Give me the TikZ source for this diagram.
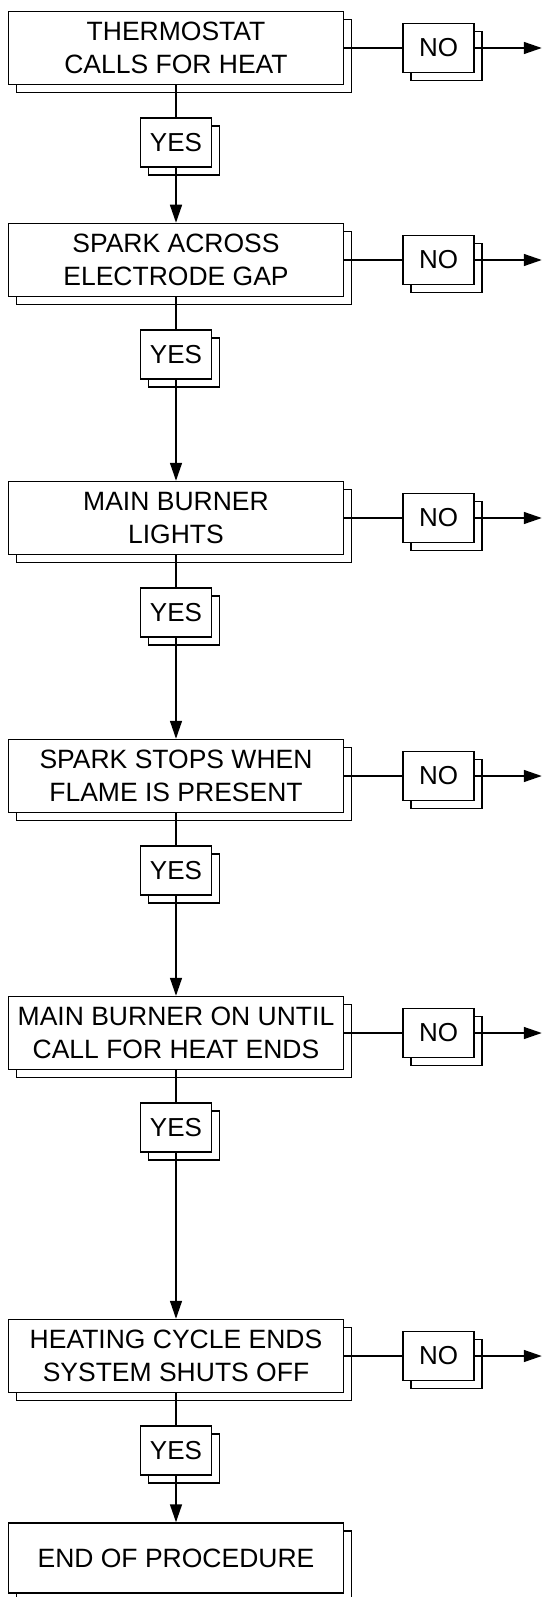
\documentclass[tikz,border=0pt]{standalone}
\usepackage{fontspec}
\setmainfont{Liberation Sans}
\usetikzlibrary{arrows.meta, positioning, shadows}
\tikzset{
  stepbox/.style = {rectangle, draw, fill=white, line width=1.5pt, minimum width=335pt,
                    minimum height=73pt, inner sep=0pt, align=center,
                    font=\fontsize{26.5}{33}\selectfont,
                    copy shadow={shadow xshift=8pt, shadow yshift=-8pt, line width=1.5pt}},
  answer/.style = {rectangle, draw, fill=white, line width=1.5pt, minimum width=71pt,
                   minimum height=49pt, inner sep=0pt, font=\fontsize{26}{33}\selectfont,
                   copy shadow={shadow xshift=8pt, shadow yshift=-8pt, line width=1.5pt}},
  link/.style = {line width=1.5pt},
  arrow/.style = {-{Triangle[length=18pt, width=12pt]}, line width=1.5pt},
}

\begin{document}
\begin{tikzpicture}[x=1pt, y=-1pt, node distance=32pt]
\useasboundingbox (0,0) rectangle (545,1597);

% Steps
\node[stepbox] (thermo)  at (176,48)   {THERMOSTAT\\CALLS FOR HEAT};
\node[stepbox] (spark)   at (176,260)  {SPARK ACROSS\\ELECTRODE GAP};
\node[stepbox] (burner)  at (176,518)  {MAIN BURNER\\LIGHTS};
\node[stepbox] (stops)   at (176,776)  {SPARK STOPS WHEN\\FLAME IS PRESENT};
\node[stepbox] (untilE)  at (176,1033) {MAIN BURNER ON UNTIL\\CALL FOR HEAT ENDS};
\node[stepbox] (cycle)   at (176,1356) {HEATING CYCLE ENDS\\SYSTEM SHUTS OFF};
\node[stepbox, minimum height=70pt] (endProc) at (176,1558) {END OF PROCEDURE};

% YES answers
\node[answer, below=of thermo] (thermoYes) {YES};
\node[answer, below=of spark]  (sparkYes)  {YES};
\node[answer, below=of burner] (burnerYes) {YES};
\node[answer, below=of stops]  (stopsYes)  {YES};
\node[answer, below=of untilE] (untilEYes) {YES};
\node[answer, below=of cycle]  (cycleYes)  {YES};

% NO answers
\node[answer, right=58pt of thermo] (thermoNo) {NO};
\node[answer, right=58pt of spark]  (sparkNo)  {NO};
\node[answer, right=58pt of burner] (burnerNo) {NO};
\node[answer, right=58pt of stops]  (stopsNo)  {NO};
\node[answer, right=58pt of untilE] (untilENo) {NO};
\node[answer, right=58pt of cycle]  (cycleNo)  {NO};

\coordinate[right=67pt of thermoNo] (thermoOut);
\coordinate[right=67pt of sparkNo]  (sparkOut);
\coordinate[right=67pt of burnerNo] (burnerOut);
\coordinate[right=67pt of stopsNo]  (stopsOut);
\coordinate[right=67pt of untilENo] (untilEOut);
\coordinate[right=67pt of cycleNo]  (cycleOut);

% Down the YES path
\draw[link]  (thermo) -- (thermoYes);
\draw[arrow] (thermoYes) -- (spark);
\draw[link]  (spark) -- (sparkYes);
\draw[arrow] (sparkYes) -- (burner);
\draw[link]  (burner) -- (burnerYes);
\draw[arrow] (burnerYes) -- (stops);
\draw[link]  (stops) -- (stopsYes);
\draw[arrow] (stopsYes) -- (untilE);
\draw[link]  (untilE) -- (untilEYes);
\draw[arrow] (untilEYes) -- (cycle);
\draw[link]  (cycle) -- (cycleYes);
\draw[arrow] (cycleYes) -- (endProc);

% Out along the NO path
\draw[link]  (thermo) -- (thermoNo);
\draw[arrow] (thermoNo) -- (thermoOut);
\draw[link]  (spark) -- (sparkNo);
\draw[arrow] (sparkNo) -- (sparkOut);
\draw[link]  (burner) -- (burnerNo);
\draw[arrow] (burnerNo) -- (burnerOut);
\draw[link]  (stops) -- (stopsNo);
\draw[arrow] (stopsNo) -- (stopsOut);
\draw[link]  (untilE) -- (untilENo);
\draw[arrow] (untilENo) -- (untilEOut);
\draw[link]  (cycle) -- (cycleNo);
\draw[arrow] (cycleNo) -- (cycleOut);
\end{tikzpicture}
\end{document}
